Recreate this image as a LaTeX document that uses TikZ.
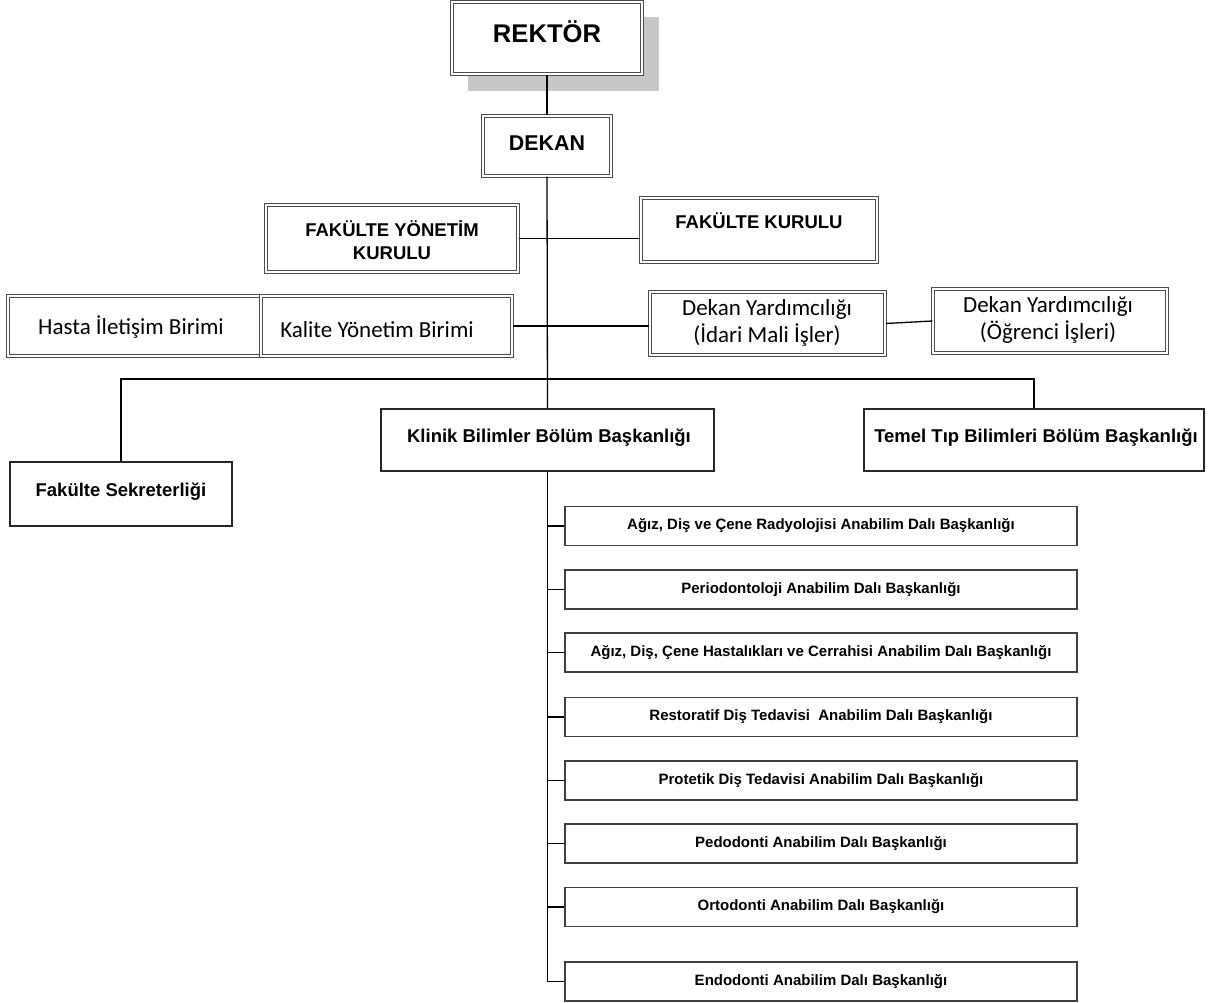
\documentclass[tikz,border=0pt]{standalone}
\usepackage{fontspec}
\setmainfont{Liberation Sans}
\newfontfamily\calf{Carlito}
\begin{document}
\begin{tikzpicture}[x=1pt,y=-1pt,
 dbl/.style={draw=black!70, line width=1.3pt, double=white, double distance=1.2pt, fill=white, inner sep=0pt},
 sbox/.style={draw=black!85, line width=1.2pt, fill=white, inner sep=0pt},
 lbox/.style={draw=black!75, line width=1.4pt, fill=white, inner sep=0pt, minimum width=512pt, minimum height=39pt, font=\bfseries\fontsize{15}{17}\selectfont},
 conn/.style={draw=black, line width=1.3pt},
 bt/.style={font=\bfseries\fontsize{18.5}{23}\selectfont, inner sep=0pt, align=center},
 ct/.style={font=\calf\fontsize{23}{27}\selectfont, inner sep=0pt, align=center},
]
\useasboundingbox (0,0) rectangle (1213,1003);
% shadow of rector
\fill[black!22] (468,17) rectangle (659,91);
% boxes
\node[dbl, minimum width=190pt, minimum height=72pt] (rek) at (547,38) {};
\node[dbl, minimum width=128pt, minimum height=60pt] (dek) at (547,146) {};
\node[dbl, minimum width=252pt, minimum height=67pt] (fyk) at (392,238.5) {};
\node[dbl, minimum width=236pt, minimum height=64pt] (fk) at (759,230) {};
\node[dbl, minimum width=253pt, minimum height=60pt] (hib) at (134.5,326) {};
\node[dbl, minimum width=251pt, minimum height=60pt] (kyb) at (386.5,326) {};
\node[dbl, minimum width=235pt, minimum height=63pt] (dyi) at (767.5,323.5) {};
\node[dbl, minimum width=234pt, minimum height=64pt] (dyo) at (1050,321) {};
\node[sbox, minimum width=333pt, minimum height=62pt] (kbb) at (547.5,440) {};
\node[sbox, minimum width=340pt, minimum height=62pt] (ttb) at (1034,440) {};
\node[sbox, minimum width=222pt, minimum height=64pt] (fs) at (121,494) {};
% texts
\node[font=\bfseries\fontsize{25.6}{30}\selectfont, inner sep=0pt, anchor=base] (rekt) at (547,43) {REKTÖR};
\node[font=\bfseries\fontsize{21.4}{25}\selectfont, inner sep=0pt, anchor=base] (dekt) at (547,151) {DEKAN};
\node[bt] (fykt) at (392,240) {FAKÜLTE YÖNETİM\\KURULU};
\node[bt, anchor=base] (fkt) at (759,229) {FAKÜLTE KURULU};
\node[ct, anchor=base] (hibt) at (131,334) {Hasta İletişim Birimi};
\node[ct, anchor=base] (kybt) at (377,337) {Kalite Yönetim Birimi};
\node[ct] (dyit) at (767,323) {Dekan Yardımcılığı\\(İdari Mali İşler)};
\node[ct] (dyot) at (1048,320) {Dekan Yardımcılığı\\(Öğrenci İşleri)};
\node[bt, anchor=base] (kbbt) at (549,442) {Klinik Bilimler Bölüm Başkanlığı};
\node[bt, anchor=base] (ttbt) at (1036,442) {Temel Tıp Bilimleri Bölüm Başkanlığı};
\node[bt, anchor=base] (fst) at (121,496) {Fakülte Sekreterliği};
% list
\node[lbox] (l1) at (821,526) {Ağız, Diş ve Çene Radyolojisi Anabilim Dalı Başkanlığı};
\node[lbox] (l2) at (821,589.5) {Periodontoloji Anabilim Dalı Başkanlığı};
\node[lbox] (l3) at (821,652.5) {Ağız, Diş, Çene Hastalıkları ve Cerrahisi Anabilim Dalı Başkanlığı};
\node[lbox] (l4) at (821,717) {Restoratif Diş Tedavisi\ \ Anabilim Dalı Başkanlığı};
\node[lbox] (l5) at (821,780.5) {Protetik Diş Tedavisi Anabilim Dalı Başkanlığı};
\node[lbox] (l6) at (821,843.5) {Pedodonti Anabilim Dalı Başkanlığı};
\node[lbox] (l7) at (821,907) {Ortodonti Anabilim Dalı Başkanlığı};
\node[lbox] (l8) at (821,981.5) {Endodonti Anabilim Dalı Başkanlığı};
% connectors
\draw[conn] (rek.south) -- (dek.north);
\draw[conn] (dek.south) -- (kbb.north);
\draw[conn] (fyk.east) -- (fyk.east -| fk.west);
\draw[conn] (kyb.east) -- (kyb.east -| dyi.west);
\draw[conn] (dyi.east) -- (dyo.west);
\coordinate (bar) at (547,379);
\draw[conn] (fs.north) |- (bar) -| (ttb.north);
\draw[conn] (kbb.south) |- (l8.west);
\foreach \i in {1,...,7} {\draw[conn] (l\i.west) -- (l\i.west -| kbb.south);}
\end{tikzpicture}
\end{document}
